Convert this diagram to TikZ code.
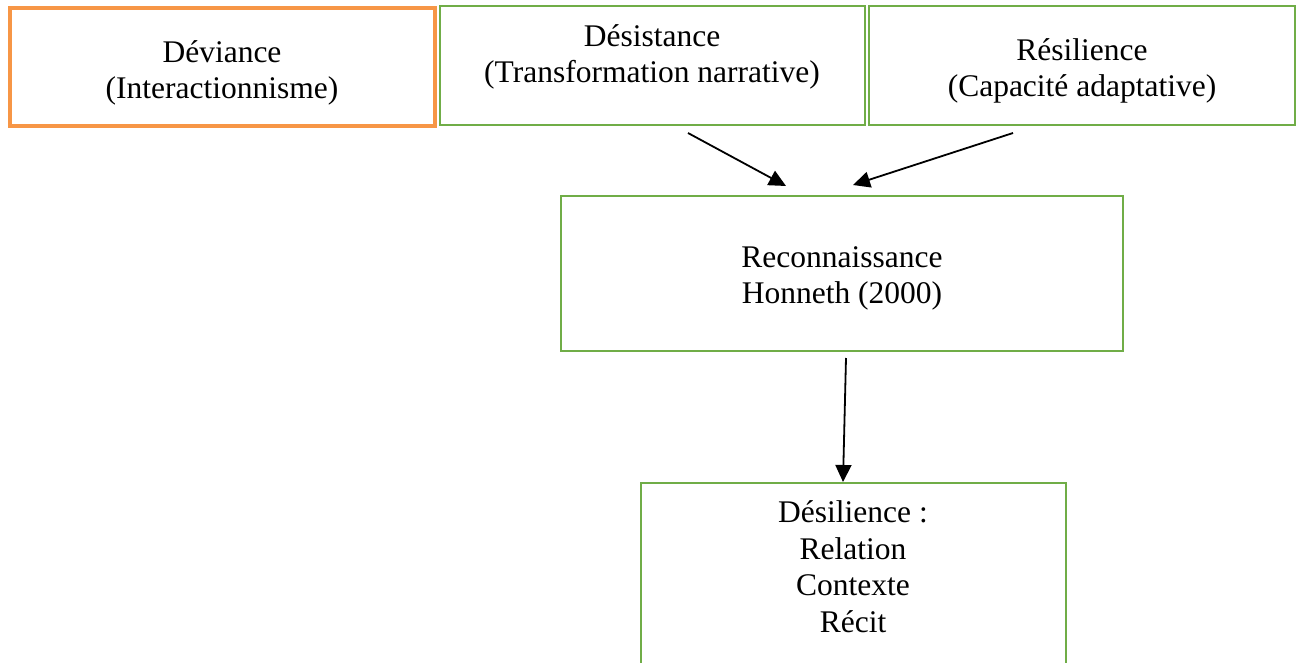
\documentclass[tikz,border=0pt]{standalone}
\usepackage{fontspec}
\setmainfont{Liberation Serif}
\usetikzlibrary{arrows.meta}
\definecolor{boxgreen}{RGB}{112,173,71}
\definecolor{boxorange}{RGB}{247,150,70}
\begin{document}
\begin{tikzpicture}[x=1pt,y=-1pt,
  box/.style={draw=boxgreen, line width=2.8pt, fill=none, inner sep=0pt, rectangle},
  obox/.style={box, draw=boxorange, line width=4.5pt},
  txt/.style={inner sep=0pt, align=center, font=\fontsize{31.5}{36.5}\selectfont},
  arr/.style={line width=1.8pt, -{Triangle[length=17pt, width=16pt]}}]
\useasboundingbox (0,0) rectangle (1299,663);
\clip (0,0) rectangle (1299,663);
% boxes
\node[obox, minimum width=425pt, minimum height=118pt] (dev) at (222.5,67) {};
\node[box, minimum width=425pt, minimum height=119pt] (des) at (652.5,65.5) {};
\node[box, minimum width=426pt, minimum height=119pt] (res) at (1082,65.5) {};
\node[box, minimum width=562pt, minimum height=155pt] (rec) at (842,273.5) {};
\node[box, minimum width=425pt, minimum height=260pt] (dsl) at (853.5,613) {};
% texts
\node[txt] (devt) at (222,73) {\strut Déviance\\\strut(Interactionnisme)};
\node[txt] (dest) at (652,57) {\strut Désistance\\\strut(Transformation narrative)};
\node[txt] (rest) at (1082,71) {\strut Résilience\\\strut(Capacité adaptative)};
\node[txt] (rect) at (842,278) {\strut Reconnaissance\\\strut Honneth (2000)};
\node[txt] (dslt) at (853,570) {\strut Désilience :\\\strut Relation\\\strut Contexte\\\strut Récit};
% arrow ends
\coordinate (a1s) at (688,133);
\coordinate (a1e) at (786,186);
\coordinate (a2s) at (1013,133);
\coordinate (a2e) at (853,185);
\coordinate (a3s) at (846,358);
\coordinate (a3e) at (843,482);
\draw[arr] (a1s) -- (a1e);
\draw[arr] (a2s) -- (a2e);
\draw[arr] (a3s) -- (a3e);
\end{tikzpicture}
\end{document}
